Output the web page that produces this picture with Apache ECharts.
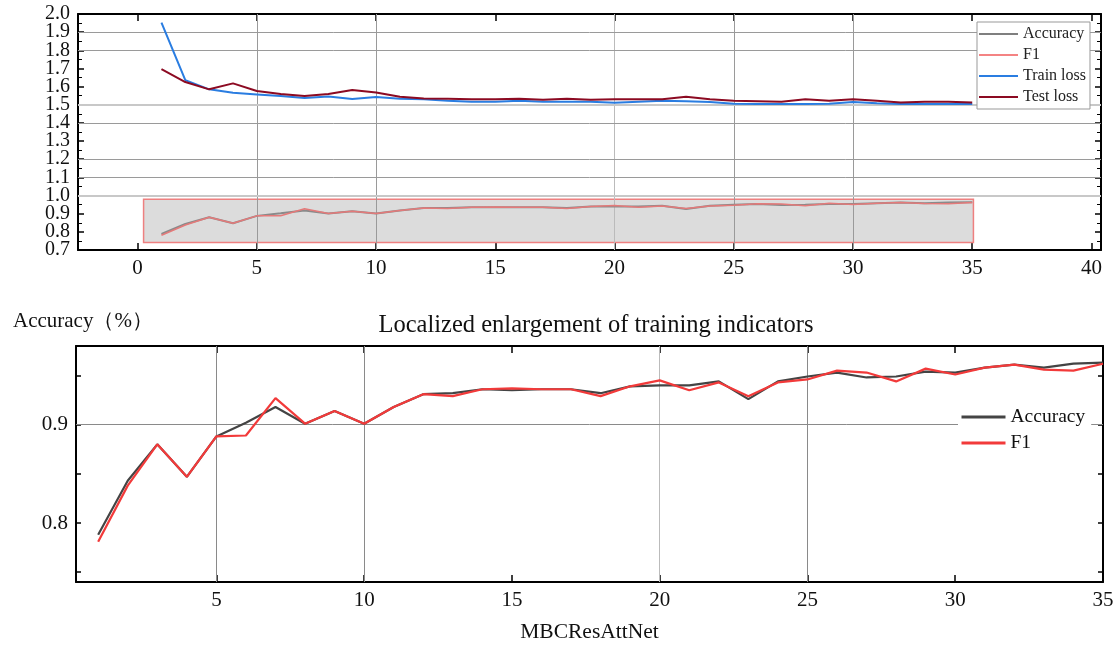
<!DOCTYPE html>
<html>
<head>
<meta charset="utf-8">
<script src="https://cdn.jsdelivr.net/npm/echarts@6/dist/echarts.min.js"></script>
<style>
  html, body { margin: 0; padding: 0; background: #fff; }
  #main { width: 1115px; height: 649px; }
</style>
</head>
<body>
<div id="main"></div>
<script>
// 训练数据
var epochs = [1, 2, 3, 4, 5, 6, 7, 8, 9, 10, 11, 12, 13, 14, 15, 16, 17, 18, 19, 20,
  21, 22, 23, 24, 25, 26, 27, 28, 29, 30, 31, 32, 33, 34, 35];
var accuracy = [0.788, 0.843, 0.880, 0.847, 0.888, 0.902, 0.918, 0.901, 0.914, 0.901,
  0.918, 0.931, 0.932, 0.936, 0.935, 0.936, 0.936, 0.932, 0.939, 0.940,
  0.940, 0.944, 0.926, 0.944, 0.949, 0.953, 0.948, 0.949, 0.954, 0.953,
  0.958, 0.961, 0.958, 0.962, 0.963];
var f1 = [0.781, 0.838, 0.880, 0.847, 0.888, 0.889, 0.927, 0.901, 0.914, 0.901,
  0.918, 0.931, 0.929, 0.936, 0.937, 0.936, 0.936, 0.929, 0.939, 0.945,
  0.935, 0.943, 0.929, 0.943, 0.946, 0.955, 0.953, 0.944, 0.957, 0.951,
  0.958, 0.961, 0.956, 0.955, 0.962];
var trainLoss = [1.952, 1.636, 1.585, 1.566, 1.557, 1.548, 1.537, 1.545, 1.532, 1.543,
  1.533, 1.530, 1.522, 1.517, 1.517, 1.522, 1.517, 1.517, 1.517, 1.511,
  1.517, 1.522, 1.520, 1.515, 1.506, 1.504, 1.504, 1.504, 1.506, 1.515,
  1.509, 1.504, 1.504, 1.504, 1.504];
var testLoss = [1.697, 1.625, 1.585, 1.618, 1.576, 1.559, 1.548, 1.559, 1.581, 1.567,
  1.544, 1.535, 1.533, 1.531, 1.531, 1.533, 1.528, 1.533, 1.528, 1.531,
  1.531, 1.530, 1.544, 1.530, 1.522, 1.520, 1.517, 1.530, 1.522, 1.530,
  1.522, 1.513, 1.517, 1.517, 1.513];

// 刻度
var topXTicks = [0, 5, 10, 15, 20, 25, 30, 35, 40];
var topYEndLabels = [0.7, 2.0];
var bottomXTicks = [5, 10, 15, 20, 25, 30, 35];
var bottomYLabels = [0.8, 0.9];
var bottomYTicks = [0.75, 0.8, 0.85, 0.9, 0.95];
// 网格线（原图只画了部分）
var topVGrid = [5, 10, 20, 25, 30];
var topHGrid = [1.9, 1.8, 1.5, 1.4, 1.2, 1.1, 1.0];
var bottomVGrid = [5, 10, 20, 25];
var bottomHGrid = [0.9];

var FONT = "'Liberation Serif', 'Times New Roman', serif";

function pairs(arr) {
  return epochs.map(function (e, i) { return [e, arr[i]]; });
}

function frameAxis(opt) {
  var base = {
    axisLine: { show: true, onZero: false, lineStyle: { color: '#000', width: 2 } },
    axisTick: { show: true, inside: true, length: 6, lineStyle: { color: '#000', width: 1.5 } },
    axisLabel: { show: false },
    splitLine: { show: false }
  };
  return Object.assign(base, opt);
}

function gridLines(vs, hs, color) {
  var data = [];
  vs.forEach(function (v) { data.push({ xAxis: v, lineStyle: { color: v === 20 ? '#bbb' : color, width: 1, type: 'solid' } }); });
  hs.forEach(function (v) {
    var light = (v === 1.0 || v === 1.5);
    data.push({ yAxis: v, lineStyle: { color: light ? '#c8c8c8' : color, width: light ? 2 : 1, type: 'solid' } });
  });
  return {
    silent: true, symbol: ['none', 'none'], label: { show: false }, z: 1.5,
    animation: false, data: data
  };
}

// 图例只显示线段
function legendItem(name, color, width) {
  return { name: name, lineStyle: { color: color, width: width }, itemStyle: { color: color, opacity: 0 } };
}

var chart = echarts.init(document.getElementById('main'));

var topGrid = { left: 78, top: 14, width: 1023, height: 236, outerBoundsMode: 'none' };

var option = {
  animation: false,
  textStyle: { fontFamily: FONT },
  title: [
    {
      text: 'Localized enlargement of training indicators',
      left: 591, top: 308, textAlign: 'center',
      textStyle: { fontFamily: FONT, fontSize: 24.5, fontWeight: 'normal', color: '#111' }
    },
    {
      text: 'Accuracy（%）',
      left: 8, top: 306,
      textStyle: { fontFamily: FONT, fontSize: 21, fontWeight: 'normal', color: '#111' }
    }
  ],
  legend: [
    {
      orient: 'vertical', left: 977, top: 22,
      itemWidth: 39, itemHeight: 16, itemGap: 5,
      padding: [4, 4, 4, 1],
      backgroundColor: '#fff', borderColor: '#999', borderWidth: 1,
      textStyle: { fontFamily: FONT, fontSize: 16, color: '#222' },
      selectedMode: false,
      data: [
        legendItem('Accuracy', '#555', 1.5),
        legendItem('F1', '#f05a5a', 1.5),
        legendItem('Train loss', '#2a7de1', 2),
        legendItem('Test loss', '#8c0a22', 2)
      ]
    },
    {
      orient: 'vertical', left: 958, top: 405,
      itemWidth: 44, itemHeight: 19, itemGap: 6,
      padding: [2, 6, 2, 2],
      backgroundColor: '#fff',
      textStyle: { fontFamily: FONT, fontSize: 19.5, color: '#111' },
      selectedMode: false,
      data: [
        legendItem('Accuracy', '#444', 3),
        legendItem('F1', '#f23a3a', 3)
      ]
    }
  ],
  grid: [
    topGrid,
    { left: 76, top: 346, width: 1027, height: 236, outerBoundsMode: 'none' },
    // 与上图重合，只用来放 0.7 / 2.0 两个端点标签
    Object.assign({}, topGrid)
  ],
  xAxis: [
    frameAxis({
      type: 'value', gridIndex: 0, position: 'bottom', min: -2.5, max: 40.4,
      axisTick: { show: true, inside: true, length: 7, customValues: topXTicks, lineStyle: { color: '#000', width: 1.5 } },
      axisLabel: { show: true, customValues: topXTicks, margin: 8, fontFamily: FONT, fontSize: 21, color: '#111' }
    }),
    frameAxis({
      type: 'value', gridIndex: 0, position: 'top', min: -2.5, max: 40.4,
      axisTick: { show: true, inside: true, length: 7, customValues: topXTicks, lineStyle: { color: '#000', width: 1.5 } }
    }),
    frameAxis({
      type: 'value', gridIndex: 1, position: 'bottom', min: 0.25, max: 35,
      name: 'MBCResAttNet', nameLocation: 'middle', nameGap: 39,
      nameTextStyle: { fontFamily: FONT, fontSize: 21.5, color: '#111' },
      axisTick: { show: true, inside: true, length: 7, customValues: bottomXTicks, lineStyle: { color: '#000', width: 1.5 } },
      axisLabel: { show: true, customValues: bottomXTicks, margin: 8, fontFamily: FONT, fontSize: 21, color: '#111' }
    }),
    frameAxis({
      type: 'value', gridIndex: 1, position: 'top', min: 0.25, max: 35,
      axisTick: { show: true, inside: true, length: 7, customValues: bottomXTicks, lineStyle: { color: '#000', width: 1.5 } }
    }),
    { type: 'value', gridIndex: 2, min: -2.5, max: 40.4, show: false }
  ],
  yAxis: [
    frameAxis({
      type: 'value', gridIndex: 0, position: 'left', min: 0.7, max: 2.0, interval: 0.1,
      minorTick: { show: true, splitNumber: 2, length: 4, lineStyle: { color: '#000', width: 1 } },
      axisLabel: {
        show: true, margin: 8, fontFamily: FONT, fontSize: 20, color: '#111',
        showMinLabel: false, showMaxLabel: false,
        formatter: function (v) { return v.toFixed(1); }
      }
    }),
    frameAxis({
      type: 'value', gridIndex: 0, position: 'right', min: 0.7, max: 2.0, interval: 0.1,
      minorTick: { show: true, splitNumber: 2, length: 4, lineStyle: { color: '#000', width: 1 } }
    }),
    frameAxis({
      type: 'value', gridIndex: 1, position: 'left', min: 0.74, max: 0.98,
      axisTick: { show: true, inside: true, length: 5, customValues: bottomYTicks, lineStyle: { color: '#000', width: 1.5 } },
      axisLabel: {
        show: true, customValues: bottomYLabels, margin: 8, fontFamily: FONT, fontSize: 21, color: '#111',
        formatter: function (v) { return v.toFixed(1); }
      }
    }),
    frameAxis({
      type: 'value', gridIndex: 1, position: 'right', min: 0.74, max: 0.98,
      axisTick: { show: true, inside: true, length: 5, customValues: bottomYTicks, lineStyle: { color: '#000', width: 1.5 } }
    }),
    {
      type: 'value', gridIndex: 2, position: 'left', min: 0.7, max: 2.0,
      axisLine: { show: false }, axisTick: { show: false }, splitLine: { show: false },
      axisLabel: {
        show: true, customValues: topYEndLabels, margin: 8, fontFamily: FONT, fontSize: 20, color: '#111',
        formatter: function (v) { return v.toFixed(1); }
      }
    }
  ],
  series: [
    {
      name: 'Accuracy', type: 'line', xAxisIndex: 0, yAxisIndex: 0,
      data: pairs(accuracy), symbol: 'none',
      lineStyle: { color: '#8a8a8a', width: 2 }, itemStyle: { color: '#8a8a8a' },
      markLine: gridLines(topVGrid, topHGrid, '#9a9a9a'),
      markArea: {
        silent: true, z: 1,
        itemStyle: { color: '#dcdcdc', borderColor: '#ee8080', borderWidth: 1.5 },
        data: [[{ coord: [0.25, 0.742] }, { coord: [35.05, 0.979] }]]
      }
    },
    {
      name: 'F1', type: 'line', xAxisIndex: 0, yAxisIndex: 0,
      data: pairs(f1), symbol: 'none',
      lineStyle: { color: '#e47a7a', width: 1.5 }, itemStyle: { color: '#e47a7a' }
    },
    {
      name: 'Train loss', type: 'line', xAxisIndex: 0, yAxisIndex: 0,
      data: pairs(trainLoss), symbol: 'none',
      lineStyle: { color: '#2a7de1', width: 2 }, itemStyle: { color: '#2a7de1' }
    },
    {
      name: 'Test loss', type: 'line', xAxisIndex: 0, yAxisIndex: 0,
      data: pairs(testLoss), symbol: 'none',
      lineStyle: { color: '#8c0a22', width: 2 }, itemStyle: { color: '#8c0a22' }
    },
    {
      name: 'Accuracy', type: 'line', xAxisIndex: 2, yAxisIndex: 2,
      data: pairs(accuracy), symbol: 'none',
      lineStyle: { color: '#444', width: 2.2 }, itemStyle: { color: '#444' },
      markLine: gridLines(bottomVGrid, bottomHGrid, '#8a8a8a')
    },
    {
      name: 'F1', type: 'line', xAxisIndex: 2, yAxisIndex: 2,
      data: pairs(f1), symbol: 'none',
      lineStyle: { color: '#f23a3a', width: 2.2 }, itemStyle: { color: '#f23a3a' }
    }
  ]
};

chart.setOption(option);
</script>
</body>
</html>
